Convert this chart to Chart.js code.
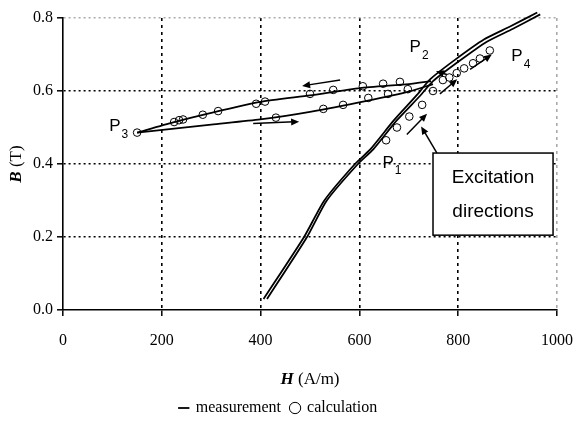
<!DOCTYPE html>
<html>
<head>
<meta charset="utf-8">
<script src="https://cdn.jsdelivr.net/npm/chart.js@4"></script>
<style>
  html, body { margin: 0; padding: 0; background: #fff; }
  #wrap { width: 576px; height: 434px; }
</style>
</head>
<body>
<div id="wrap"><canvas id="bhChart"></canvas></div>
<script>
// measured initial curve (two close traces)
const mainUpH = [413, 494, 534, 597, 628, 676, 723, 749, 800, 858, 910, 966];
const mainUpB = [0.03, 0.2, 0.3, 0.4, 0.44, 0.52, 0.587, 0.627, 0.68, 0.735, 0.77, 0.81];
const mainDnH = [406, 488, 529, 591, 622, 670, 717, 743, 794, 852, 904, 960];
const mainDnB = [0.03, 0.2, 0.3, 0.4, 0.44, 0.52, 0.59, 0.632, 0.686, 0.741, 0.776, 0.815];

// measured minor loop
const upperH = [745, 700, 601, 500, 399, 300, 223, 150];
const upperB = [0.627, 0.619, 0.608, 0.588, 0.570, 0.540, 0.514, 0.486];
const lowerH = [150, 300, 399, 500, 615, 700, 749];
const lowerB = [0.486, 0.508, 0.522, 0.543, 0.573, 0.598, 0.619];

// calculated points
const calcH = [150, 225, 235, 243, 283, 314, 391, 409, 500, 547, 607, 648, 682,
               431, 527, 567, 618, 658, 698,
               654, 676, 701, 727, 749, 769, 782, 797, 812, 830, 844, 864];
const calcB = [0.486, 0.515, 0.52, 0.522, 0.535, 0.545, 0.565, 0.571, 0.592, 0.603, 0.613, 0.62, 0.625,
               0.527, 0.551, 0.562, 0.581, 0.592, 0.605,
               0.465, 0.5, 0.53, 0.562, 0.6, 0.63, 0.637, 0.649, 0.662, 0.676, 0.689, 0.711];

// direction arrows: [H0, B0, H1, B1]
const arrows = [
  [561, 0.630, 484, 0.614],
  [385, 0.511, 478, 0.516],
  [777, 0.645, 755, 0.654],
  [763, 0.592, 798, 0.632],
  [824, 0.659, 868, 0.700],
  [696, 0.481, 737, 0.538],
  [757, 0.430, 725, 0.503]
];

const pointNames = ['P', 'P', 'P', 'P'];
const pointSubs = ['1', '2', '3', '4'];
const pointH = [658, 713, 105, 919];
const pointB = [0.403, 0.719, 0.503, 0.695];

const boxLines = ['Excitation', 'directions'];
const boxH = [749, 992];
const boxB = [0.43, 0.205];

const xTicks = [0, 200, 400, 600, 800, 1000];
const yTicks = [0, 0.2, 0.4, 0.6, 0.8];

function pts(h, b) { return h.map((v, i) => ({ x: v, y: b[i] })); }

const serif = "'Liberation Serif', 'Times New Roman', serif";
const sans = "'Liberation Sans', Arial, sans-serif";

const lineDs = (label, data) => ({
  label: label,
  data: data,
  showLine: true,
  borderColor: '#000',
  backgroundColor: '#000',
  borderWidth: 1.8,
  pointRadius: 0,
  pointStyle: 'line',
  tension: 0.2,
  clip: false
});

const extras = {
  id: 'extras',
  afterDatasetsDraw(chart) {
    const ctx = chart.ctx;
    const xs = chart.scales.x, ys = chart.scales.y;
    const area = chart.chartArea;
    ctx.save();

    // arrows
    ctx.strokeStyle = '#000';
    ctx.fillStyle = '#000';
    ctx.lineWidth = 1.5;
    arrows.forEach(a => {
      const x0 = xs.getPixelForValue(a[0]), y0 = ys.getPixelForValue(a[1]);
      const x1 = xs.getPixelForValue(a[2]), y1 = ys.getPixelForValue(a[3]);
      const ang = Math.atan2(y1 - y0, x1 - x0);
      ctx.beginPath();
      ctx.moveTo(x0, y0);
      ctx.lineTo(x1 - 5 * Math.cos(ang), y1 - 5 * Math.sin(ang));
      ctx.stroke();
      ctx.beginPath();
      ctx.moveTo(x1, y1);
      ctx.lineTo(x1 - 8 * Math.cos(ang) + 3.5 * Math.sin(ang), y1 - 8 * Math.sin(ang) - 3.5 * Math.cos(ang));
      ctx.lineTo(x1 - 8 * Math.cos(ang) - 3.5 * Math.sin(ang), y1 - 8 * Math.sin(ang) + 3.5 * Math.cos(ang));
      ctx.closePath();
      ctx.fill();
    });

    // P labels
    ctx.textBaseline = 'middle';
    pointNames.forEach((n, i) => {
      const x = xs.getPixelForValue(pointH[i]), y = ys.getPixelForValue(pointB[i]);
      ctx.font = '17px ' + sans;
      ctx.textAlign = 'center';
      ctx.fillText(n, x, y);
      const w = ctx.measureText(n).width;
      ctx.font = '12px ' + sans;
      ctx.textAlign = 'left';
      ctx.fillText(pointSubs[i], x + w / 2 + 1, y + 8);
    });

    // text box
    const bx0 = xs.getPixelForValue(boxH[0]), bx1 = xs.getPixelForValue(boxH[1]);
    const by0 = ys.getPixelForValue(boxB[0]), by1 = ys.getPixelForValue(boxB[1]);
    ctx.fillStyle = '#fff';
    ctx.fillRect(bx0, by0, bx1 - bx0, by1 - by0);
    ctx.strokeStyle = '#000';
    ctx.lineWidth = 1.5;
    ctx.strokeRect(bx0, by0, bx1 - bx0, by1 - by0);
    ctx.fillStyle = '#000';
    ctx.font = '19px ' + sans;
    ctx.textAlign = 'center';
    const cy = (by0 + by1) / 2;
    ctx.fillText(boxLines[0], (bx0 + bx1) / 2, cy - 16);
    ctx.fillText(boxLines[1], (bx0 + bx1) / 2, cy + 18);

    // axis titles with bold italic symbol
    const drawTitle = (sym, rest, cx, cy2) => {
      ctx.font = 'bold italic 17px ' + serif;
      const w1 = ctx.measureText(sym).width;
      ctx.font = '17px ' + serif;
      const w2 = ctx.measureText(rest).width;
      const start = cx - (w1 + w2) / 2;
      ctx.textAlign = 'left';
      ctx.font = 'bold italic 17px ' + serif;
      ctx.fillText(sym, start, cy2);
      ctx.font = '17px ' + serif;
      ctx.fillText(rest, start + w1, cy2);
    };
    drawTitle('H', ' (A/m)', (area.left + area.right) / 2, area.bottom + 70);
    ctx.translate(17, (area.top + area.bottom) / 2);
    ctx.rotate(-Math.PI / 2);
    drawTitle('B', ' (T)', 0, 0);
    ctx.restore();
  }
};

const ctx = document.getElementById('bhChart').getContext('2d');
const bhChart = new Chart(ctx, {
  type: 'scatter',
  data: {
    datasets: [
      lineDs('measurement', pts(mainUpH, mainUpB)),
      lineDs('', pts(mainDnH, mainDnB)),
      lineDs('', pts(upperH, upperB)),
      lineDs('', pts(lowerH, lowerB)),
      {
        label: 'calculation',
        data: pts(calcH, calcB),
        pointStyle: 'circle',
        pointRadius: 3.8,
        borderWidth: 1,
        borderColor: '#000',
        backgroundColor: 'rgba(255,255,255,0)'
      }
    ]
  },
  options: {
    responsive: true,
    maintainAspectRatio: false,
    animation: false,
    layout: { padding: { left: 0, right: 19, top: 18, bottom: 8 } },
    plugins: {
      legend: {
        position: 'bottom',
        labels: {
          usePointStyle: true,
          boxWidth: 8,
          boxHeight: 8,
          padding: 10,
          color: '#000',
          font: { family: serif, size: 16 },
          filter: item => item.text !== ''
        }
      },
      tooltip: { enabled: false }
    },
    scales: {
      x: {
        type: 'linear',
        min: 0,
        max: 1000,
        afterBuildTicks: s => { s.ticks = xTicks.map(v => ({ value: v })); },
        afterFit: s => { s.height = 80; s.paddingRight = 19; s.paddingLeft = 0; },
        ticks: { color: '#000', font: { family: serif, size: 16 }, padding: 15, maxRotation: 0, callback: v => String(v) },
        grid: {
          color: c => c.tick && c.tick.value === 1000 ? '#aaa' : (c.tick && c.tick.value === 0 ? 'rgba(0,0,0,0)' : '#000'),
          lineWidth: 1.6,
          tickColor: '#000',
          tickLength: 6,
          tickWidth: 1.5
        },
        border: { color: '#000', width: 1.6, dash: [3, 4] }
      },
      y: {
        type: 'linear',
        min: 0,
        max: 0.8,
        afterBuildTicks: s => { s.ticks = yTicks.map(v => ({ value: v })); },
        afterFit: s => { s.width = 63; },
        ticks: { color: '#000', font: { family: serif, size: 16 }, padding: 4, callback: v => v.toFixed(1) },
        grid: {
          color: c => c.tick && c.tick.value === 0.8 ? '#aaa' : (c.tick && c.tick.value === 0 ? 'rgba(0,0,0,0)' : '#000'),
          lineWidth: 1.6,
          tickColor: '#000',
          tickLength: 6,
          tickWidth: 1.5
        },
        border: { color: '#000', width: 1.6, dash: [2, 3] }
      }
    }
  },
  plugins: [extras]
});
</script>
</body>
</html>
